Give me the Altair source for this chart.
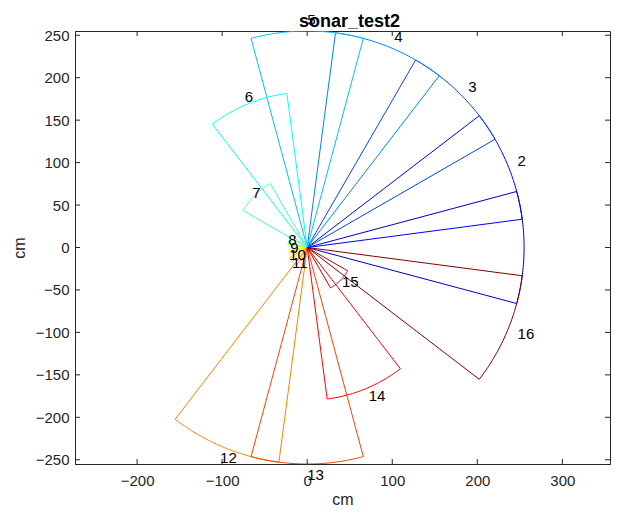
import altair as alt
import numpy as np
import pandas as pd

# ---- data ----
sensor = list(range(1, 17))
sensor_angle_deg = [0, 22.5, 45, 67.5, 90, 112.5, 135, 157.5,
                    180, 202.5, 225, 247.5, 270, 292.5, 315, 337.5]
sensor_range_cm = [255, 255, 255, 255, 255, 183, 87, 23,
                   19, 22, 24, 255, 255, 180, 55, 255]
beam_half_width_deg = 15
label_factor = 1.05
shown_labels = [2, 3, 4, 5, 6, 7, 8, 9, 10, 11, 12, 13, 14, 15, 16]
jet16 = ["#0000BF", "#0000FF", "#0040FF", "#0080FF", "#00BFFF", "#00FFFF",
         "#40FFBF", "#80FF80", "#BFFF40", "#FFFF00", "#FFBF00", "#FF8000",
         "#FF4000", "#FF0000", "#BF0000", "#800000"]
x_ticks = [-200, -100, 0, 100, 200, 300]
y_ticks = [-250, -200, -150, -100, -50, 0, 50, 100, 150, 200, 250]
x_domain = [-273, 356]
y_domain = [-255, 255]

# ---- wedge outlines (origin -> arc -> origin) ----
rows = []
for s, a, r in zip(sensor, sensor_angle_deg, sensor_range_cm):
    arc = np.linspace(a - beam_half_width_deg, a + beam_half_width_deg, 41)
    pts = [(0.0, 0.0)] + [(r * np.cos(np.radians(t)), r * np.sin(np.radians(t))) for t in arc] + [(0.0, 0.0)]
    for i, (x, y) in enumerate(pts):
        rows.append({"sensor": s, "order": i, "x": x, "y": y})
wedges = pd.DataFrame(rows)

lab_rows = []
for s, a, r in zip(sensor, sensor_angle_deg, sensor_range_cm):
    if s in shown_labels:
        lab_rows.append({"sensor": s, "label": str(s),
                         "x": label_factor * r * np.cos(np.radians(a)),
                         "y": label_factor * r * np.sin(np.radians(a))})
labels_df = pd.DataFrame(lab_rows)

W, H = 535, 433
FONT = "Liberation Sans"
AX = "#262626"

xs = alt.Scale(domain=x_domain, nice=False, zero=False)
ys = alt.Scale(domain=y_domain, nice=False, zero=False)

lines = alt.Chart(wedges).mark_line(strokeWidth=1, clip=True).encode(
    x=alt.X("x:Q", scale=xs, title="cm",
            axis=alt.Axis(values=x_ticks, ticks=False, grid=False, labelPadding=9,
                          titlePadding=3, labelFontSize=15, titleFontSize=16,
                          labelFont=FONT, titleFont=FONT, labelColor=AX, titleColor=AX,
                          domainColor=AX, titleFontWeight="normal")),
    y=alt.Y("y:Q", scale=ys, title="cm",
            axis=alt.Axis(values=y_ticks, ticks=False, grid=False, labelPadding=6,
                          titlePadding=8, labelFontSize=15, titleFontSize=16,
                          labelFont=FONT, titleFont=FONT, labelColor=AX, titleColor=AX,
                          domainColor=AX, titleFontWeight="normal")),
    color=alt.Color("sensor:O", scale=alt.Scale(domain=sensor, range=jet16), legend=None),
    detail="sensor:N",
    order="order:Q",
)

labels = alt.Chart(labels_df).mark_text(
    align="left", baseline="middle", fontSize=15, font=FONT, color="#000000"
).encode(x=alt.X("x:Q", scale=xs), y=alt.Y("y:Q", scale=ys), text="label:N")

xt = pd.DataFrame({"v": x_ticks})
yt = pd.DataFrame({"v": y_ticks})
tick_len = 5
bx = alt.Chart(xt).mark_rule(color=AX, strokeWidth=1).encode(
    x=alt.X("v:Q", scale=xs), y=alt.value(H), y2=alt.value(H - tick_len))
tx = alt.Chart(xt).mark_rule(color=AX, strokeWidth=1).encode(
    x=alt.X("v:Q", scale=xs), y=alt.value(0), y2=alt.value(tick_len))
ly = alt.Chart(yt).mark_rule(color=AX, strokeWidth=1).encode(
    y=alt.Y("v:Q", scale=ys), x=alt.value(0), x2=alt.value(tick_len))
ry = alt.Chart(yt).mark_rule(color=AX, strokeWidth=1).encode(
    y=alt.Y("v:Q", scale=ys), x=alt.value(W), x2=alt.value(W - tick_len))

chart = alt.layer(lines, bx, tx, ly, ry, labels).properties(
    width=W, height=H,
    title=alt.TitleParams("sonar_test2", fontSize=18, fontWeight="bold", font=FONT,
                          color="#000000", anchor="middle", offset=5, dy=23, dx=7),
    padding={"left": 67, "top": 23, "right": 1, "bottom": 42},
    autosize=alt.AutoSizeParams(type="none"),
).configure_view(stroke=AX, strokeWidth=1)

chart.save("out.html", embed_options={"renderer": "svg", "actions": False})
